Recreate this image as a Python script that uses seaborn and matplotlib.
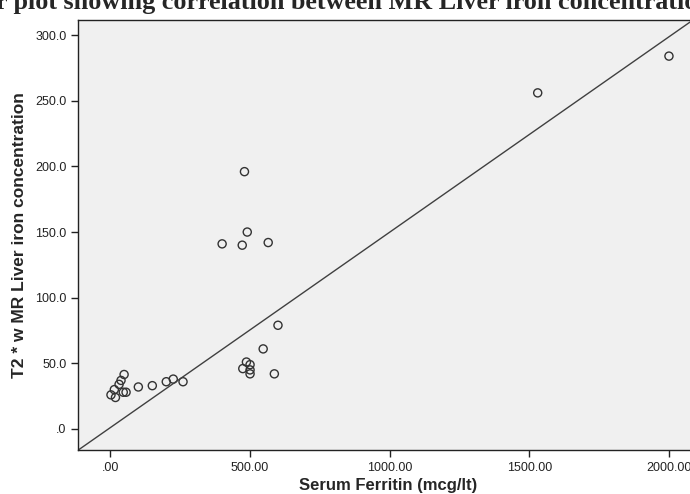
import numpy as np
import pandas as pd
import matplotlib
matplotlib.use("Agg")
import matplotlib.pyplot as plt
import seaborn as sns
from matplotlib.ticker import FuncFormatter

# Значения
ferritin = [480, 490, 400, 472, 565, 547, 487, 500, 474, 500, 500, 587, 600,
            49, 38, 31, 14, 2, 18, 46, 56, 100, 150, 200, 225, 260,
            1530, 2000]
t2_liver = [196, 150, 141, 140, 142, 61, 51, 49, 46, 45, 42, 42, 79,
            41.5, 37, 34, 30, 26, 24, 28, 28, 32, 33, 36, 38, 36,
            256, 284]

# линия на графике
fit_intercept = 1.1
fit_slope = 0.1488

title = "Scatter plot showing correlation between MR Liver iron concentration and Serum Ferritin"
x_label = "Serum Ferritin (mcg/lt)"
y_label = "T2 * w MR Liver iron concentration"

df = pd.DataFrame({"ferritin": ferritin, "t2": t2_liver})

sns.set_style("ticks")
plt.rcParams["font.family"] = ["Liberation Sans", "DejaVu Sans"]

fig = plt.figure(figsize=(6.9, 4.94), dpi=100)
ax = fig.add_axes([78.3 / 690, 44 / 494, (698 - 78.3) / 690, (450 - 20) / 494])
ax.set_facecolor("#f0f0f0")

sns.scatterplot(data=df, x="ferritin", y="t2", ax=ax, s=34,
                facecolor="none", edgecolor="#333333", linewidth=1.0)
ax.axline((0, fit_intercept), slope=fit_slope, color="#404040", linewidth=1.0)

ax.set_xlim(-115, 2104)
ax.set_ylim(-16, 311.5)
ax.set_xticks([0, 500, 1000, 1500, 2000])
ax.set_yticks([0, 50, 100, 150, 200, 250, 300])
ax.xaxis.set_major_formatter(FuncFormatter(lambda v, p: ".00" if v == 0 else f"{v:.2f}"))
ax.yaxis.set_major_formatter(FuncFormatter(lambda v, p: ".0" if v == 0 else f"{v:.1f}"))
ax.tick_params(labelsize=9, colors="#222222", length=5, width=1)
for s in ax.spines.values():
    s.set_color("#222222")
    s.set_linewidth(1.0)

ax.set_xlabel(x_label, fontsize=12, fontweight="bold", labelpad=3)
ax.set_ylabel(y_label, fontsize=12.5, fontweight="bold", labelpad=6)

# заголовок обрезан слева, как на исходнике
tfont = dict(family="Liberation Serif", fontsize=18.8, fontweight="bold")
fig.canvas.draw()
r = fig.canvas.get_renderer()
tmp = fig.text(0, 0, "Scatte", **tfont)
w = tmp.get_window_extent(r).width
tmp.remove()
fig.text(-(w + 4) / 690, 485 / 494, title, va="baseline", ha="left", **tfont)

fig.savefig("out.png", dpi=100)
